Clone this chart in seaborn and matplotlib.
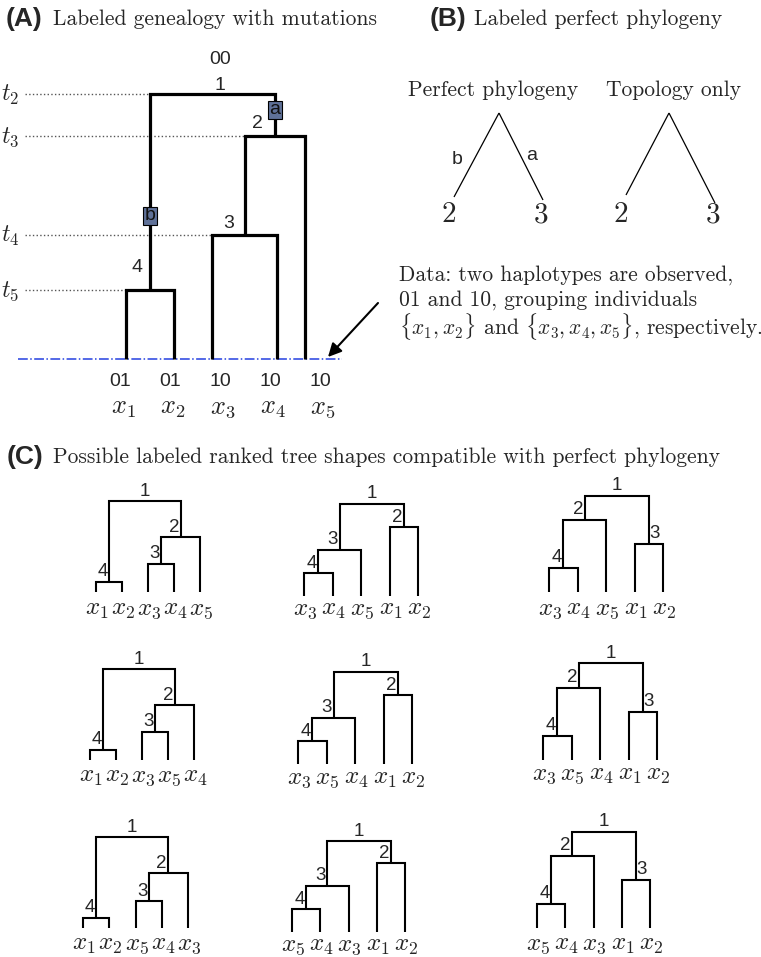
import matplotlib
matplotlib.use("Agg")
import numpy as np
import pandas as pd
import matplotlib.pyplot as plt
import seaborn as sns
from matplotlib.patches import Rectangle

# ---- panel A: labelled genealogy ------------------------------------------
A_LEAVES = [1, 2, 3, 4, 5]
A_HAPLOTYPES = ["01", "01", "10", "10", "10"]
A_ROOT_HAPLOTYPE = "00"
A_TIME_LABELS = ["$t_2$", "$t_3$", "$t_4$", "$t_5$"]
A_RANK_Y = [94, 136, 235, 290]          # y of coalescent ranks 1..4
A_LEAF_X = [126, 174, 212, 277, 305]
A_BOTTOM = 359
A_MUTATIONS = ["a", "b"]
A_MUTATION_NODE = [2, 4]                # mutation sits on branch above node
A_MUTATION_Y = [110, 216]

# ---- panel B ----------------------------------------------------------------
B_TITLES = ["Perfect phylogeny", "Topology only"]
B_LEAF_LABELS = ["2", "3"]
B_EDGE_LABELS = ["b", "a"]
B_DATA_TEXT = [
    "Data: two haplotypes are observed,",
    "01 and 10, grouping individuals",
    r"$\{x_1,x_2\}$ and $\{x_3,x_4,x_5\}$, respectively.",
]

# ---- panel C: nine ranked tree shapes --------------------------------------
# topologies: rank -> (child a, child b); "pK" = leaf position K, "nR" = node of rank R
TOPO_1 = {4: ("p0", "p1"), 3: ("p2", "p3"), 2: ("n3", "p4"), 1: ("n4", "n2")}
TOPO_2 = {4: ("p0", "p1"), 3: ("n4", "p2"), 2: ("p3", "p4"), 1: ("n3", "n2")}
TOPO_3 = {4: ("p0", "p1"), 2: ("n4", "p2"), 3: ("p3", "p4"), 1: ("n2", "n3")}
C_TOPOLOGIES = [TOPO_1, TOPO_2, TOPO_3] * 3
C_LABEL_SIDES = [{2: "L", 3: "L", 4: "L"}, {2: "L", 3: "L", 4: "L"},
                 {2: "L", 3: "R", 4: "L"}] * 3
C_LEAVES = [
    [1, 2, 3, 4, 5], [3, 4, 5, 1, 2], [3, 4, 5, 1, 2],
    [1, 2, 3, 5, 4], [3, 5, 4, 1, 2], [3, 5, 4, 1, 2],
    [1, 2, 5, 4, 3], [5, 4, 3, 1, 2], [5, 4, 3, 1, 2],
]
C_RANK_Y = [
    [501, 537, 564, 582], [504, 527, 550, 573], [496, 520, 544, 568],
    [669, 705, 732, 750], [672, 695, 718, 741], [663, 688, 712, 736],
    [837, 873, 901, 918], [841, 863, 886, 909], [832, 856, 880, 904],
]
C_BOTTOM = [592, 596, 592, 760, 764, 760, 928, 932, 928]
# layout: first leaf x, leaf spacing, leaf label y
C_X0 = [96, 304, 549, 90, 298, 543, 83, 292, 537]
C_DX = [26, 28.5, 28.5, 26, 28.5, 28.5, 26.3, 28.3, 28.3]
C_LABEL_Y = [609, 609, 609, 776, 778, 774, 944, 945, 944]

SERIF = "cmr10"
SANS = "Liberation Sans"


def layout_tree(topo, leaf_x, rank_y, bottom):
    pos = {}

    def get(c):
        if c in pos:
            return pos[c]
        if c[0] == "p":
            pos[c] = (leaf_x[int(c[1:])], bottom)
        else:
            r = int(c[1:])
            a, b = topo[r]
            xa, _ = get(a)
            xb, _ = get(b)
            pos[c] = ((xa + xb) / 2, rank_y[r - 1])
        return pos[c]

    rows = []
    for r, (a, b) in topo.items():
        get("n%d" % r)
        (xa, ya), (xb, yb) = get(a), get(b)
        yr = rank_y[r - 1]
        for x, y in [(xa, ya), (xa, yr), (xb, yr), (xb, yb)]:
            rows.append({"x": x, "y": y, "seg": r})
    return pd.DataFrame(rows), pos


sns.set_theme(style="white")
plt.rcParams["font.family"] = [SANS, "DejaVu Sans"]
plt.rcParams["mathtext.fontset"] = "cm"
plt.rcParams["lines.solid_joinstyle"] = "miter"
plt.rcParams["lines.solid_capstyle"] = "butt"

fig = plt.figure(figsize=(7.61, 9.57), dpi=100)
ax = fig.add_axes([0, 0, 1, 1])

# ---------------- panel A ----------------
ax.text(6, 19, "(A)", fontsize=19, fontweight="bold", ha="left", va="center")
ax.text(53, 19, "Labeled genealogy with mutations", family=SERIF, fontsize=15.5,
        ha="left", va="center")

dfA, posA = layout_tree(TOPO_1, A_LEAF_X, A_RANK_Y, A_BOTTOM)
for r, lab, y in zip(range(1, 5), A_TIME_LABELS, A_RANK_Y):
    a, b = TOPO_1[r]
    x_end = posA[a][0]
    ax.hlines(y, 25, x_end, colors="#555555", linestyles=":", lw=1)
    ax.text(1, y + 1, lab, fontsize=17, ha="left", va="center")

ax.hlines(A_BOTTOM, 18, 342, colors="#2440e0", linestyles="-.", lw=1.1)
sns.lineplot(data=dfA, x="x", y="y", units="seg", estimator=None, sort=False,
             color="black", linewidth=2.3, ax=ax, legend=False)

a_label_offsets = {1: (8, -8), 2: (-17, -12), 3: (-16, -12), 4: (-13, -22)}
for r, (dx, dy) in a_label_offsets.items():
    x, y = posA["n%d" % r]
    ax.text(x + dx, y + dy, str(r), fontsize=14, ha="center", va="center")
rx, ry = posA["n1"]
ax.text(rx + 8, ry - 35, A_ROOT_HAPLOTYPE, fontsize=14, ha="center", va="center")

for m, node, y in zip(A_MUTATIONS, A_MUTATION_NODE, A_MUTATION_Y):
    x = posA["n%d" % node][0]
    ax.add_patch(Rectangle((x - 7, y - 9), 14, 18, facecolor="#5f7198",
                           edgecolor="black", lw=0.8, zorder=3))
    ax.text(x, y, m, fontsize=14, ha="center", va="center", color="#111111", zorder=4)

for i, (hap, leaf) in enumerate(zip(A_HAPLOTYPES, A_LEAVES)):
    ax.text(120 + 50 * i, 381, hap, fontsize=14, ha="center", va="center")
    ax.text(123 + 50 * i, 408, "$x_{%d}$" % leaf, fontsize=19, ha="center", va="center")

ax.annotate("", xy=(328, 357), xytext=(378, 303),
            arrowprops=dict(arrowstyle="-|>", color="black", lw=1.5,
                            mutation_scale=20, shrinkA=0, shrinkB=0))

# ---------------- panel B ----------------
ax.text(430, 19, "(B)", fontsize=19, fontweight="bold", ha="left", va="center")
ax.text(474, 19, "Labeled perfect phylogeny", family=SERIF, fontsize=15.5,
        ha="left", va="center")

b_apex = [(499, 113), (669, 113)]
b_tips = [[(454, 197), (543, 200)], [(626, 195), (715, 203)]]
rows = []
for k, ((ax0, ay0), tips) in enumerate(zip(b_apex, b_tips)):
    for j, (tx, ty) in enumerate(tips):
        rows += [{"x": ax0, "y": ay0, "seg": 2 * k + j}, {"x": tx, "y": ty, "seg": 2 * k + j}]
dfB = pd.DataFrame(rows)
sns.lineplot(data=dfB, x="x", y="y", units="seg", estimator=None, sort=False,
             color="black", linewidth=0.9, ax=ax, legend=False)

for (cx, _), title, tips in zip(b_apex, B_TITLES, b_tips):
    ax.text(cx - 6 if cx < 600 else cx + 4, 90, title, family=SERIF, fontsize=15.5,
            ha="center", va="center")
    for (tx, ty), lab in zip(tips, B_LEAF_LABELS):
        ax.text(tx - 5 + (3 if lab == "3" else 0), 215, lab, family=SERIF, fontsize=21,
                ha="center", va="center")
ax.text(457, 159, B_EDGE_LABELS[0], fontsize=14, ha="center", va="center")
ax.text(532, 155, B_EDGE_LABELS[1], fontsize=14, ha="center", va="center")

for i, line in enumerate(B_DATA_TEXT):
    ax.text(399, 275 + 25.5 * i, line, family=SERIF, fontsize=15.5, ha="left", va="center")

# ---------------- panel C ----------------
ax.text(7, 457, "(C)", fontsize=19, fontweight="bold", ha="left", va="center")
ax.text(53, 457, "Possible labeled ranked tree shapes compatible with perfect phylogeny",
        family=SERIF, fontsize=15.5, ha="left", va="center")

for t in range(9):
    leaf_x = [C_X0[t] + C_DX[t] * i for i in range(5)]
    df, pos = layout_tree(C_TOPOLOGIES[t], leaf_x, C_RANK_Y[t], C_BOTTOM[t])
    sns.lineplot(data=df, x="x", y="y", units="seg", estimator=None, sort=False,
                 color="black", linewidth=1.5, ax=ax, legend=False)
    for r in range(1, 5):
        x, y = pos["n%d" % r]
        if r == 1:
            ax.text(x, y - 10, "1", fontsize=13.5, ha="center", va="center")
        elif C_LABEL_SIDES[t][r] == "L":
            ax.text(x - 1.5, y - 10, str(r), fontsize=13.5, ha="right", va="center")
        else:
            ax.text(x + 0.5, y - 10, str(r), fontsize=13.5, ha="left", va="center")
    for x, leaf in zip(leaf_x, C_LEAVES[t]):
        ax.text(x + 1, C_LABEL_Y[t], "$x_{%d}$" % leaf, fontsize=18, ha="center", va="center")

ax.set_xlim(0, 761)
ax.set_ylim(957, 0)
ax.axis("off")
fig.savefig("out.png", dpi=100)
